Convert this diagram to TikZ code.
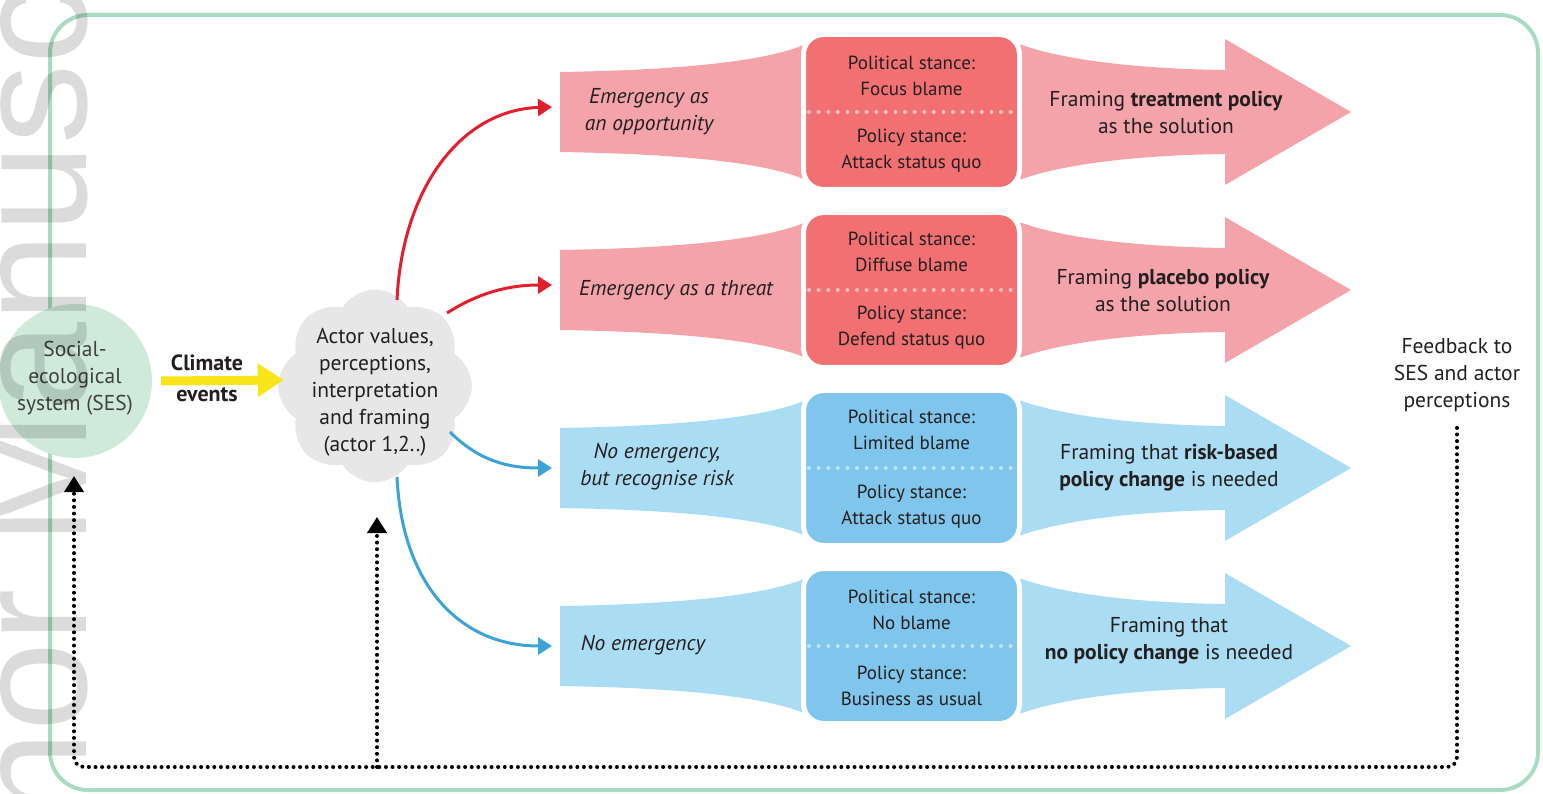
\documentclass[tikz,border=0pt]{standalone}
\usepackage{fontspec}
\setmainfont{PT Sans}
\newfontfamily\wmfont{Liberation Sans}
\usetikzlibrary{arrows.meta,shapes.symbols,calc}
\definecolor{framegreen}{RGB}{168,220,194}
\definecolor{sesgreen}{RGB}{207,234,219}
\definecolor{cloudgray}{RGB}{231,231,231}
\definecolor{redband}{RGB}{244,163,171}
\definecolor{redbox}{RGB}{242,112,114}
\definecolor{reddot}{RGB}{249,190,192}
\definecolor{blueband}{RGB}{170,220,243}
\definecolor{bluebox}{RGB}{128,198,236}
\definecolor{bluedot}{RGB}{190,228,247}
\definecolor{redarrow}{RGB}{227,30,45}
\definecolor{bluearrow}{RGB}{59,163,216}
\definecolor{climyellow}{RGB}{248,228,24}
\definecolor{txtcol}{RGB}{35,31,32}
\tikzset{
  btxt/.style={font=\fontsize{19}{26}\selectfont, align=center, text=txtcol, inner sep=0pt},
  txt/.style={font=\fontsize{21.5}{27}\selectfont, align=center, text=txtcol, inner sep=0pt},
  ltxt/.style={font=\fontsize{21.5}{27}\selectfont\itshape, align=center, text=txtcol, inner sep=0pt},
  boxnode/.style={draw=white, line width=5pt, rounded corners=20pt, minimum width=216pt, minimum height=155pt, inner sep=0pt},
  dotline/.style={line width=4pt, line cap=round, dash pattern=on 0pt off 9.6pt},
  fbdot/.style={line width=4pt, line cap=round, dash pattern=on 0pt off 6.6pt, rounded corners=10pt, -{Triangle[length=16pt,width=19pt]}},
  redarr/.style={draw=redarrow, line width=3pt, -{Triangle[length=14pt,width=17pt]}},
  bluearr/.style={draw=bluearrow, line width=3pt, -{Triangle[length=14pt,width=17pt]}},
}
\newcommand\drawrow[5]{%
  \fill[#2] (560,#1-40) .. controls (690,#1-42) and (770,#1-52) .. (806,#1-68) -- (814,#1-69)
     -- (814,#1+69) -- (806,#1+68) .. controls (770,#1+52) and (690,#1+42) .. (560,#1+40) -- cycle;
  \fill[#2] (1010,#1-68) -- (1022,#1-67) .. controls (1070,#1-50) and (1150,#1-43) .. (1225,#1-42)
     -- (1225,#1-73) -- (1351,#1) -- (1225,#1+73) -- (1225,#1+42)
     .. controls (1150,#1+43) and (1070,#1+50) .. (1022,#1+67) -- (1010,#1+68) -- cycle;
  \node[boxnode, fill=#3] (box#5) at (911.5,#1) {};
  \draw[#4, dotline] ($(box#5.west)+(8,0)$) -- ($(box#5.east)+(-6,0)$);
  \coordinate (in#5) at (552,#1);
}
\begin{document}
\begin{tikzpicture}[x=1pt,y=-1pt]
\useasboundingbox (0,0) rectangle (1543,794);
% frame
\draw[framegreen, line width=4pt, rounded corners=38pt] (50,15) rectangle (1538,790);
% rows
\drawrow{112}{redband}{redbox}{reddot}{1}
\drawrow{290}{redband}{redbox}{reddot}{2}
\drawrow{468}{blueband}{bluebox}{bluedot}{3}
\drawrow{646}{blueband}{bluebox}{bluedot}{4}
% row texts
\node[ltxt] (l1) at (649,112) {Emergency as\\an opportunity};
\node[ltxt] (l2) at (676,290) {Emergency as a threat};
\node[ltxt] (l3) at (657,467) {No emergency,\\but recognise risk};
\node[ltxt] (l4) at (643,645) {No emergency};
\node[btxt] (p1) at (911.5,76) {Political stance:\\Focus blame};
\node[btxt] (q1) at (911.5,151) {Policy stance:\\Attack status quo};
\node[btxt] (p2) at (911.5,252) {Political stance:\\Diffuse blame};
\node[btxt] (q2) at (911.5,328) {Policy stance:\\Defend status quo};
\node[btxt] (p3) at (911.5,430) {Political stance:\\Limited blame};
\node[btxt] (q3) at (911.5,507) {Policy stance:\\Attack status quo};
\node[btxt] (p4) at (911.5,610) {Political stance:\\No blame};
\node[btxt] (q4) at (911.5,686) {Policy stance:\\Business as usual};
\node[txt] (r1) at (1166,112) {Framing \textbf{treatment policy}\\as the solution};
\node[txt] (r2) at (1163,290) {Framing \textbf{placebo policy}\\as the solution};
\node[txt] (r3) at (1169,468) {Framing that \textbf{risk-based}\\\textbf{policy change} is needed};
\node[txt] (r4) at (1169,641) {Framing that\\\textbf{no policy change} is needed};
% SES and cloud
\node[circle, fill=sesgreen, minimum size=154pt, inner sep=0pt] (ses) at (75,381) {};
\node[txt, text=black!75] (sestxt) at (75,378) {Social-\\ecological\\system (SES)};
\node[cloud, cloud puffs=8, cloud puff arc=115, aspect=1, fill=cloudgray, minimum width=194pt, minimum height=193pt, inner sep=0pt] (cloud) at (375,386) {};
\node[txt] (cloudtxt) at (375,392) {Actor values,\\perceptions,\\interpretation\\and framing\\(actor 1,2..)};
\node[txt, font=\fontsize{22}{31}\selectfont\bfseries] (clim) at (207,378) {Climate\\events};
\draw[climyellow, line width=9pt, -{Triangle[length=26pt,width=32pt]}] ($(ses.east)+(9,0)$) -- ($(cloud.west)+(6,-6)$);
% cloud arrows
\draw[redarr] ($(cloud.center)+(22,-86)$) .. controls (402,190) and (460,110) .. ($(in1)+(0,-5)$);
\draw[redarr] ($(cloud.center)+(72,-73)$) .. controls (480,292) and (510,285) .. ($(in2)+(0,-5)$);
\draw[bluearr] ($(cloud.center)+(75,46)$) .. controls (480,462) and (510,468) .. (in3);
\draw[bluearr] ($(cloud.center)+(22,91)$) .. controls (402,585) and (460,646) .. (in4);
% feedback
\node[txt] (fb) at (1457,375) {Feedback to\\SES and actor\\perceptions};
\coordinate (sesin) at (74,476);
\coordinate (cloudin) at (377,517);
\coordinate (fbjoin) at (377,767);
\draw[fbdot] ($(fb.south)+(0,16)$) -- (1457,767) -- (74,767) -- (sesin);
\draw[fbdot] (fbjoin) -- (cloudin);
% watermark
\begin{scope}
\clip (0,0) rectangle (1543,794);
\node[rotate=90, anchor=base west, inner sep=0pt, font=\wmfont\fontsize{160}{160}\selectfont, text=black, opacity=0.14] (wm) at (86,1061) {Author Manuscript};
\end{scope}
\end{tikzpicture}
\end{document}
